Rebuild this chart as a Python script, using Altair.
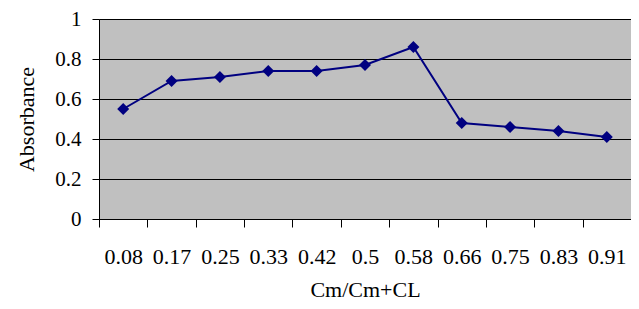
import altair as alt
import pandas as pd

ratios = ["0.08", "0.17", "0.25", "0.33", "0.42", "0.5", "0.58", "0.66", "0.75", "0.83", "0.91"]
absorbance = [0.55, 0.69, 0.71, 0.74, 0.74, 0.77, 0.86, 0.48, 0.46, 0.44, 0.41]

df = pd.DataFrame({"ratio": ratios, "abs": absorbance})

FONT = "Liberation Serif"

x = alt.X(
    "ratio:O",
    sort=ratios,
    scale=alt.Scale(type="band", paddingInner=0, paddingOuter=0),
    axis=alt.Axis(
        title="Cm/Cm+CL",
        labelAngle=0,
        tickBand="extent",
        tickSize=8,
        tickColor="#000000",
        domainColor="#000000",
        labelBaseline="alphabetic",
        labelPadding=36,
        labelFont=FONT,
        labelFontSize=22,
        labelColor="#000000",
        titleFont=FONT,
        titleFontSize=22,
        titleFontWeight="normal",
        titleColor="#000000",
        titleBaseline="alphabetic",
        titleY=77,
        grid=False,
    ),
)
y = alt.Y(
    "abs:Q",
    scale=alt.Scale(domain=[0, 1], nice=False),
    axis=alt.Axis(
        title="Absorbance",
        values=[0, 0.2, 0.4, 0.6, 0.8, 1],
        format="~g",
        tickSize=7,
        tickColor="#000000",
        domainColor="#000000",
        labelPadding=11,
        labelFont=FONT,
        labelFontSize=21,
        labelColor="#000000",
        titleFont=FONT,
        titleFontSize=22,
        titleFontWeight="normal",
        titleColor="#000000",
        titleAngle=-90,
        titleBaseline="alphabetic",
        titleX=-66,
        titleY=100,
        grid=True,
        gridColor="#000000",
        gridWidth=1,
    ),
)

line = alt.Chart(df).mark_line(color="#000080", strokeWidth=2).encode(x=x, y=y)
pts = alt.Chart(df).mark_point(
    shape="diamond", filled=True, color="#000080", size=144, opacity=1
).encode(x=x, y=y)

chart = (
    alt.layer(line, pts)
    .properties(
        width=532,
        height=200,
        autosize=alt.AutoSizeParams(type="none"),
        padding={"left": 91, "top": 11, "right": 0, "bottom": 82},
        background="#ffffff",
    )
    .configure_view(fill="#c0c0c0", stroke="#808080", strokeWidth=1)
)

chart.save("out.html", embed_options={"renderer": "svg", "actions": False})
